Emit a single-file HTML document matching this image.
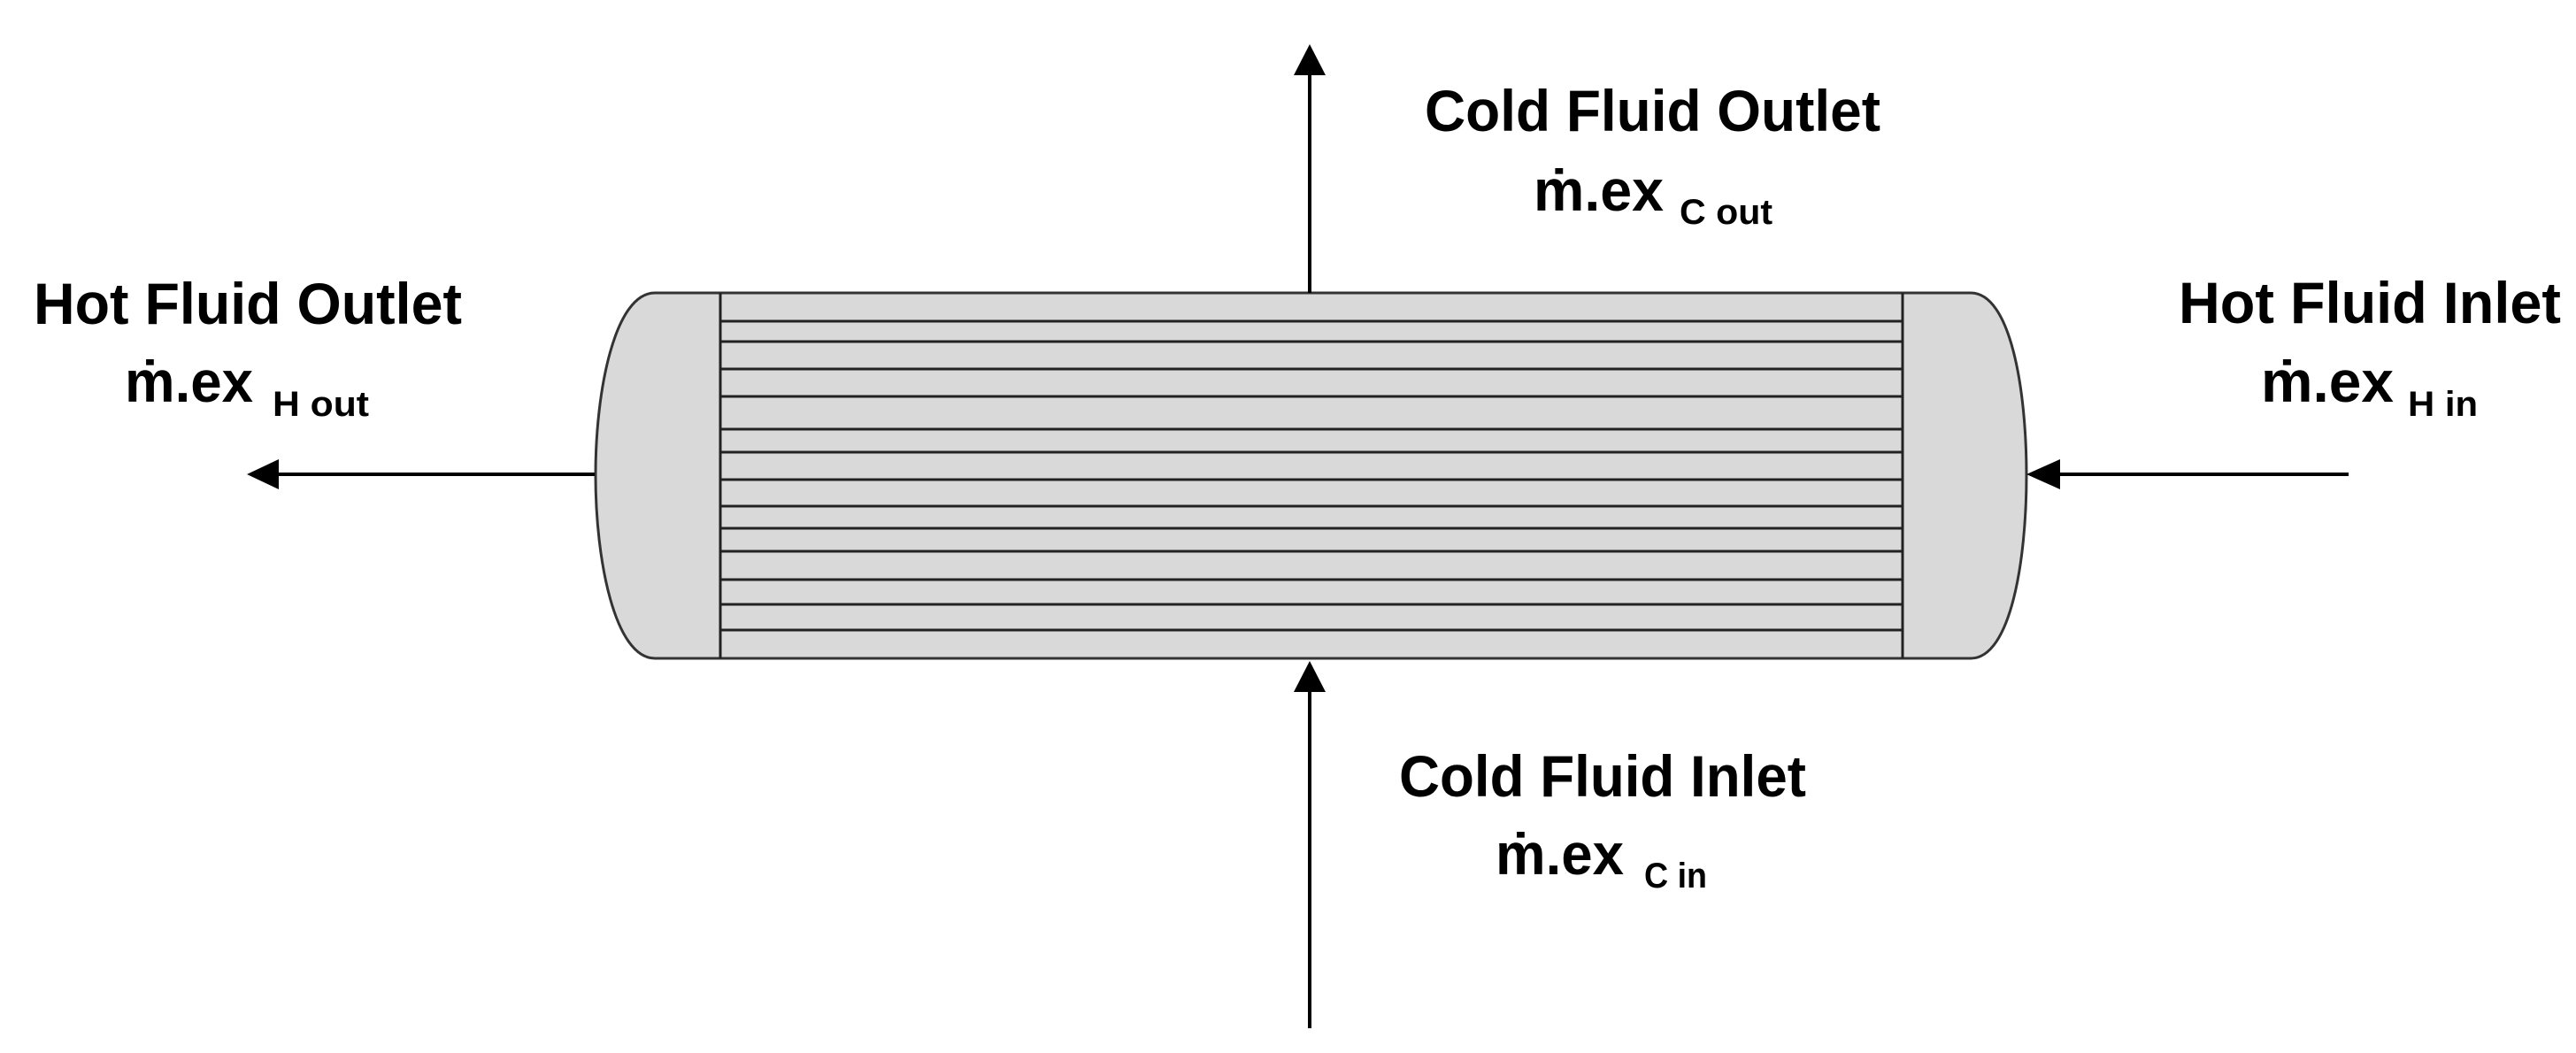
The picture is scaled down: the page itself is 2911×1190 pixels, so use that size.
<!DOCTYPE html>
<html><head><meta charset="utf-8"><style>html,body{margin:0;padding:0;background:#fff}svg{display:block}</style></head>
<body>
<svg width="2911" height="1190" viewBox="0 0 2911 1190" xmlns="http://www.w3.org/2000/svg" font-family="'Liberation Sans', sans-serif" font-weight="bold" fill="#000">
<rect width="2911" height="1190" fill="#fff"/>
<!-- shell -->
<path d="M740,331 L2227,331 C2272,331 2290,440 2290,537 C2290,634 2272,744 2227,744 L740,744 C695,744 673,634 673,537 C673,440 695,331 740,331 Z" fill="#d9d9d9" stroke="#333" stroke-width="3"/>
<g stroke="#222" stroke-width="3">
<line x1="814" y1="331" x2="814" y2="744"/>
<line x1="2150" y1="331" x2="2150" y2="744"/>
<line x1="814" y1="363" x2="2150" y2="363"/>
<line x1="814" y1="386" x2="2150" y2="386"/>
<line x1="814" y1="417" x2="2150" y2="417"/>
<line x1="814" y1="448" x2="2150" y2="448"/>
<line x1="814" y1="485" x2="2150" y2="485"/>
<line x1="814" y1="511" x2="2150" y2="511"/>
<line x1="814" y1="542" x2="2150" y2="542"/>
<line x1="814" y1="572" x2="2150" y2="572"/>
<line x1="814" y1="597" x2="2150" y2="597"/>
<line x1="814" y1="623" x2="2150" y2="623"/>
<line x1="814" y1="655" x2="2150" y2="655"/>
<line x1="814" y1="683" x2="2150" y2="683"/>
<line x1="814" y1="712" x2="2150" y2="712"/>
</g>
<!-- arrows -->
<g stroke="#000" stroke-width="4">
<line x1="312" y1="536" x2="672" y2="536"/>
<line x1="2326" y1="536" x2="2654" y2="536"/>
<line x1="1480" y1="82" x2="1480" y2="331"/>
<line x1="1480" y1="780" x2="1480" y2="1162"/>
</g>
<polygon points="279,536 315,519 315,553"/>
<polygon points="2290,536 2328,519 2328,553"/>
<polygon points="1480,50 1462,85 1498,85"/>
<polygon points="1480,747 1462,782 1498,782"/>
<!-- labels -->
<g font-size="66">
<text x="38" y="366" textLength="484" lengthAdjust="spacingAndGlyphs">Hot Fluid Outlet</text>
<text x="141" y="454" textLength="145" lengthAdjust="spacingAndGlyphs">ṁ.ex</text>
<text x="1610" y="148" textLength="515" lengthAdjust="spacingAndGlyphs">Cold Fluid Outlet</text>
<text x="1733" y="238" textLength="147" lengthAdjust="spacingAndGlyphs">ṁ.ex</text>
<text x="2462" y="365" textLength="432" lengthAdjust="spacingAndGlyphs">Hot Fluid Inlet</text>
<text x="2555" y="454" textLength="150" lengthAdjust="spacingAndGlyphs">ṁ.ex</text>
<text x="1581" y="900" textLength="460" lengthAdjust="spacingAndGlyphs">Cold Fluid Inlet</text>
<text x="1690" y="988" textLength="145" lengthAdjust="spacingAndGlyphs">ṁ.ex</text>
</g>
<g font-size="40">
<text x="308" y="470" textLength="109" lengthAdjust="spacingAndGlyphs">H out</text>
<text x="1898" y="253" textLength="105" lengthAdjust="spacingAndGlyphs">C out</text>
<text x="2721" y="470" textLength="79" lengthAdjust="spacingAndGlyphs">H in</text>
<text x="1858" y="1003" textLength="71" lengthAdjust="spacingAndGlyphs">C in</text>
</g>
</svg>
</body></html>
